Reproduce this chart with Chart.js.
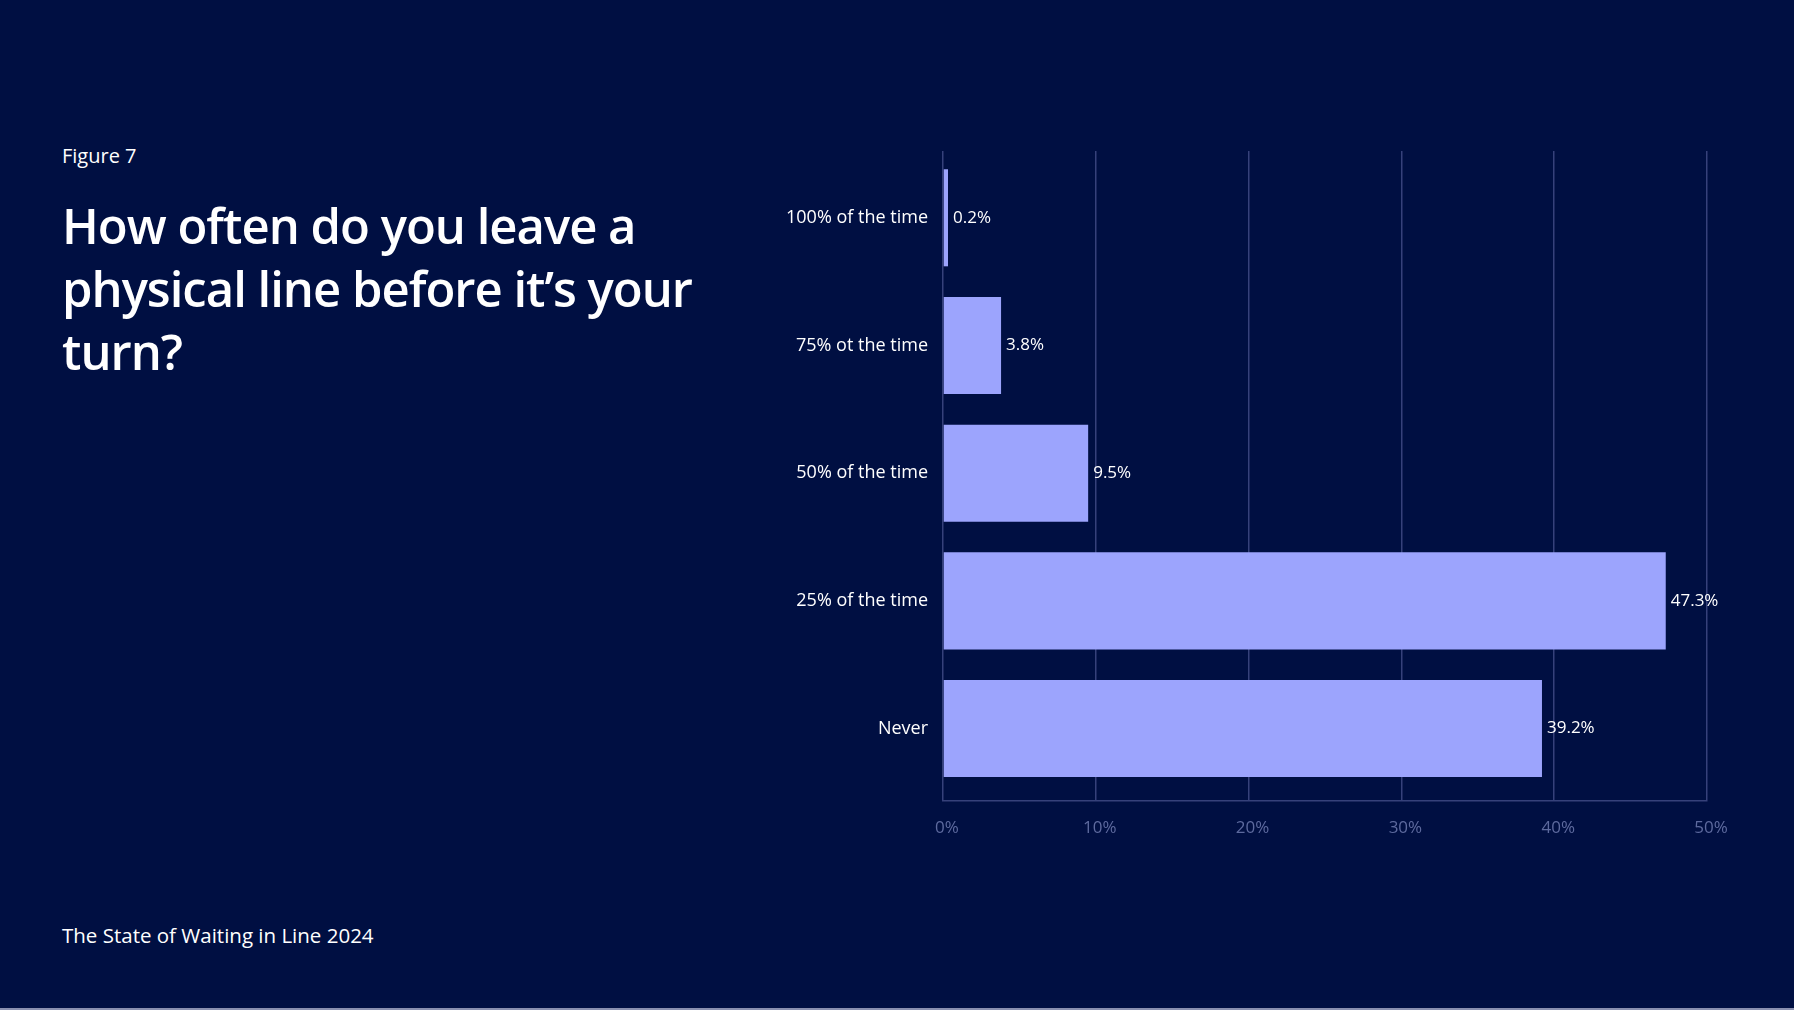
<!DOCTYPE html>
<html>
<head>
<meta charset="utf-8">
<script src="https://cdn.jsdelivr.net/npm/chart.js@4"></script>
<style>
  html, body { margin: 0; padding: 0; }
  body {
    width: 1794px; height: 1010px; background: #000f42; position: relative; overflow: hidden;
    font-family: "Open Sans", sans-serif; color: #ffffff;
  }
  #fig { position: absolute; left: 62px; top: 142px; font-size: 20px; }
  #title { position: absolute; left: 62px; top: 194px; width: 680px; font-size: 49px; font-weight: 600; line-height: 63px; letter-spacing: -1px; }
  #foot { position: absolute; left: 62px; top: 921px; font-size: 20.5px; }
  #wrap { position: absolute; left: 700px; top: 120px; width: 1094px; height: 770px; }
  #strip { position: absolute; left: 0; bottom: 0; width: 1794px; height: 2px; background: #8a90b0; }
</style>
</head>
<body>
<div id="fig">Figure 7</div>
<div id="title">How often do you leave a physical line before it’s your turn?</div>
<div id="foot">The State of Waiting in Line 2024</div>
<div id="wrap"><canvas id="myChart"></canvas></div>
<div id="strip"></div>
<script>
   const labels = ["100% of the time", "75% ot the time", "50% of the time", "25% of the time", "Never"];
   const shares = [0.2, 3.8, 9.5, 47.3, 39.2];
   const xTicks = [0, 10, 20, 30, 40, 50];

   // value text just right of each bar
   const barLabels = {
      id: 'barLabels',
      afterDatasetsDraw(chart) {
         const ctx = chart.ctx;
         const meta = chart.getDatasetMeta(0);
         ctx.save();
         ctx.fillStyle = '#ffffff';
         ctx.font = '17px "Open Sans"';
         ctx.textBaseline = 'middle';
         meta.data.forEach((bar, i) => {
            ctx.fillText(shares[i] + '%', bar.x + 5, bar.y);
         });
         ctx.restore();
      }
   };

   new Chart(document.getElementById("myChart"), {
      type: 'bar',
      data: {
         labels: labels,
         datasets: [{
            data: shares,
            backgroundColor: '#9ca4fd',
            barPercentage: 1,
            categoryPercentage: 0.76,
            minBarLength: 5
         }]
      },
      options: {
         indexAxis: 'y',
         responsive: true,
         maintainAspectRatio: false,
         animation: false,
         layout: { padding: { top: 31, right: 87, left: 0, bottom: 0 } },
         plugins: { legend: { display: false }, tooltip: { enabled: false } },
         scales: {
            x: {
               min: 0, max: 50,
               afterBuildTicks: (s) => { s.ticks = xTicks.map(v => ({ value: v })); },
               afterFit: (s) => { s.height = 89; },
               grid: { color: '#36417a', lineWidth: 1.5, drawTicks: false },
               border: { color: '#36417a', width: 1.5 },
               ticks: {
                  color: '#5d6a9e', padding: 17, labelOffset: 4,
                  font: { family: 'Open Sans', size: 17 },
                  callback: (v) => v + '%'
               }
            },
            y: {
               // leave a little empty room under the last bar, like the original
               afterBuildTicks: (s) => { s._valueRange = 5.09; s._startValue = -0.523; },
               afterFit: (s) => { s.width = 243; },
               grid: { display: false },
               border: { display: false },
               ticks: {
                  color: '#ffffff', padding: 7,
                  font: { family: 'Open Sans', size: 18 }
               }
            }
         }
      },
      plugins: [barLabels]
   });
</script>
</body>
</html>
